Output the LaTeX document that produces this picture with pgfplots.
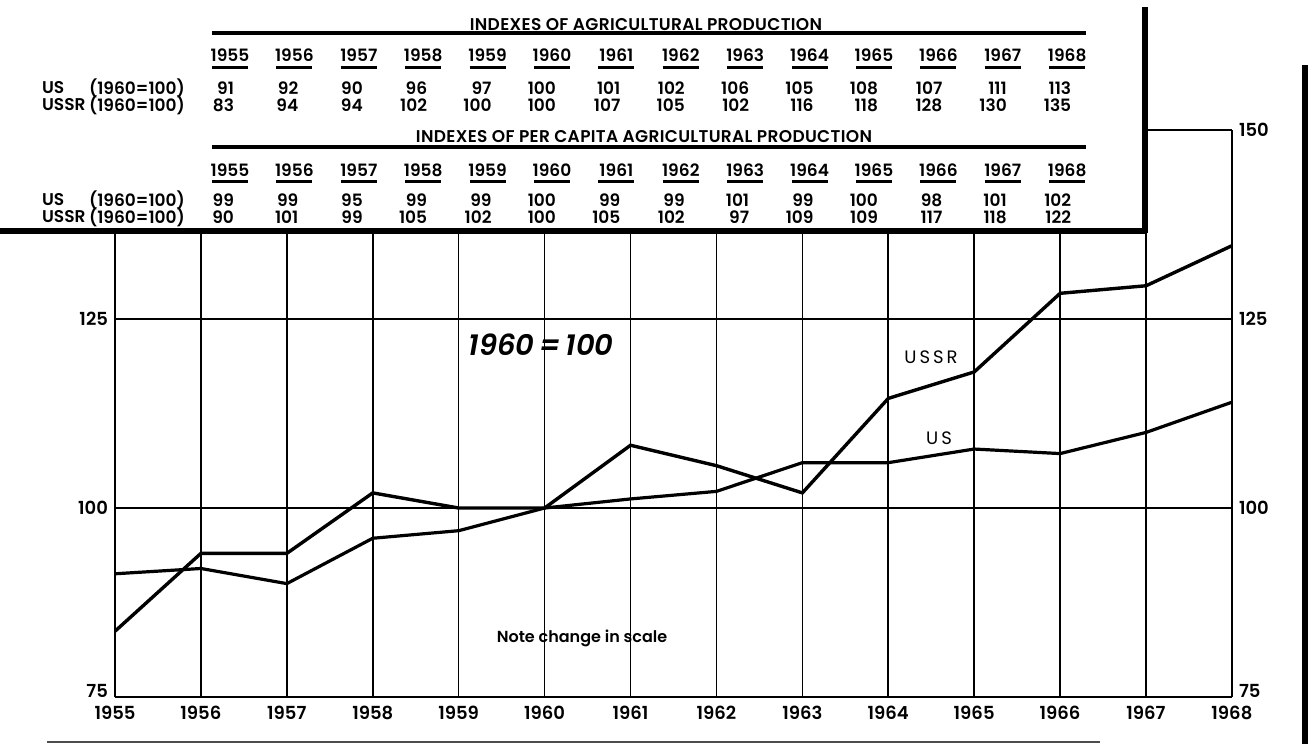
\documentclass[border=0pt]{standalone}
\usepackage{pgfplots}
\pgfplotsset{compat=1.18}
\usepackage{fontspec}
\setmainfont{Poppins}[BoldFont={Poppins SemiBold},BoldItalicFont={Poppins SemiBold Italic}]
\begin{document}
\begin{tikzpicture}[x=0.5pt,y=-0.5pt]
\path[use as bounding box] (0,0) rectangle (1311,744);
\pgfplotsset{
  common/.style={
    at={(57.5pt,-348.5pt)}, anchor=south west,
    scale only axis, width=558.5pt, height=283.5pt,
    xmin=1955, xmax=1968, ymin=75, ymax=150,
    major tick length=0pt,
    /pgf/number format/assume math mode=true,
    /pgf/number format/1000 sep={},
    tick label style={font=\bfseries\fontsize{9}{10}\selectfont},
    axis line style={line width=0.8pt},
    ytick={100,125,150},
    extra y ticks={75},
    extra y tick style={yticklabel style={yshift=3pt}, grid=none},
  }
}
\begin{axis}[common,
  xtick={1955,...,1968},
  x tick label style={yshift=-1pt},
  grid=major, major grid style={black, line width=0.8pt},
  axis x line*=bottom, axis y line*=left,
]
\addplot[black, line width=1.6pt] coordinates {
 (1955,91.3) (1956,92) (1957,90) (1958,96) (1959,97) (1960,100) (1961,101.2)
 (1962,102.2) (1963,106) (1964,106) (1965,107.8) (1966,107.2) (1967,110) (1968,114)
};
\addplot[black, line width=1.7pt] coordinates {
 (1955,83.7) (1956,94) (1957,94) (1958,102) (1959,100) (1960,100) (1961,108.3)
 (1962,105.6) (1963,102) (1964,114.5) (1965,118) (1966,128.4) (1967,129.4) (1968,134.7)
};
\end{axis}
\begin{axis}[common,
  axis x line=none, axis y line*=right,
]
\end{axis}
% overlay table box
\fill[white] (0,0) rectangle (1145,230);
\draw[line width=2.6pt] (1145,7) -- (1145,233);
\draw[line width=2.6pt] (0,231) -- (1146,231);
\draw[line width=3pt] (1305,65) -- (1305,744);
\draw[black!70, line width=1pt] (47,742) -- (1100,742);
% titles
\node[font=\bfseries\fontsize{8.5}{10}\selectfont\addfontfeature{LetterSpace=2}] at (646,25) {INDEXES OF AGRICULTURAL PRODUCTION};
\draw[line width=2pt] (212,33) -- (1086,33);
\node[font=\bfseries\fontsize{8.5}{10}\selectfont\addfontfeature{LetterSpace=2}] at (644,137) {INDEXES OF PER CAPITA AGRICULTURAL PRODUCTION};
\draw[line width=2pt] (212,147) -- (1086,147);
% row labels
\foreach \yy/\lab in {88/US,105/USSR,200/US,217/USSR}{
  \node[anchor=west, font=\bfseries\fontsize{8.5}{10}\selectfont] at (35,\yy) {\lab};
  \node[anchor=west, font=\bfseries\fontsize{8.5}{10}\selectfont] at (82,\yy) {(1960=100)};
}
% columns
\foreach \yr/\a/\b/\c/\d [count=\i from 0] in {
 1955/91/83/99/90, 1956/92/94/99/101, 1957/90/94/95/99, 1958/96/102/99/105,
 1959/97/100/99/102, 1960/100/100/100/100, 1961/101/107/99/105, 1962/102/105/99/102,
 1963/106/102/101/97, 1964/105/116/99/109, 1965/108/118/100/109, 1966/107/128/98/117,
 1967/111/130/101/118, 1968/113/135/102/122}{
  \pgfmathsetmacro{\cx}{230+64.4*\i}
  \node[font=\bfseries\fontsize{8.5}{10}\selectfont] at (\cx,55) {\yr};
  \draw[line width=1.5pt] (\cx-18,67) -- (\cx+18,67);
  \node[font=\bfseries\fontsize{8.5}{10}\selectfont] at (\cx,170) {\yr};
  \draw[line width=1.5pt] (\cx-18,181) -- (\cx+18,181);
  \node[anchor=east, font=\bfseries\fontsize{8.5}{10}\selectfont] at (\cx+11,88) {\a};
  \node[anchor=east, font=\bfseries\fontsize{8.5}{10}\selectfont] at (\cx+11,105) {\b};
  \node[anchor=east, font=\bfseries\fontsize{8.5}{10}\selectfont] at (\cx+11,200) {\c};
  \node[anchor=east, font=\bfseries\fontsize{8.5}{10}\selectfont] at (\cx+11,217) {\d};
}
% annotations
\node[font=\bfseries\itshape\fontsize{14.5}{16}\selectfont] at (541,345) {1960\,=\,100};
\node[font=\fontsize{9}{10}\selectfont] at (931,357) {U\,S\,S\,R};
\node[font=\fontsize{9}{10}\selectfont] at (939,438) {U\,S};
\node[font=\bfseries\fontsize{8}{10}\selectfont] at (582,638) {Note change in scale};
\end{tikzpicture}
\end{document}
